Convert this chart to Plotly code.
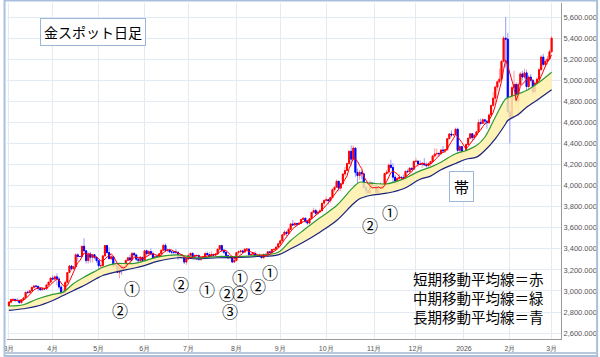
import pandas as pd
import plotly.graph_objects as go

# ---------------- data ----------------
dates = pd.bdate_range("2025-03-03", "2026-03-02")

closes = [
    2893, 2918, 2920, 2910, 2910, 2889, 2917, 2934, 2988, 2984, 3001, 3034, 3047, 3044, 3023, 3011, 3020, 3019, 3057, 3084, 3123,
    3113, 3134, 3114, 3037, 2982, 2983, 3082, 3175, 3237, 3210, 3230, 3343, 3327, 3327, 3424, 3381, 3288, 3349, 3319, 3344, 3317, 3288,
    3239, 3240, 3333, 3431, 3365, 3306, 3325, 3237, 3249, 3177, 3240, 3204, 3230, 3290, 3314, 3294, 3357, 3342, 3301, 3288, 3318, 3289,
    3381, 3353, 3374, 3353, 3310, 3325, 3322, 3354, 3386, 3433, 3385, 3388, 3370, 3369, 3368, 3368, 3323, 3332, 3328, 3274, 3303,
    3338, 3357, 3326, 3337, 3336, 3301, 3313, 3324, 3355, 3344, 3324, 3347, 3339, 3350, 3397, 3431, 3387, 3368, 3336, 3314, 3326, 3274, 3289,
    3363, 3373, 3380, 3369, 3397, 3398, 3342, 3348, 3356, 3336, 3336, 3332, 3315, 3348, 3339, 3372, 3365, 3393, 3396, 3416, 3448,
    3476, 3533, 3559, 3545, 3586, 3636, 3626, 3641, 3634, 3643, 3679, 3690, 3660, 3644, 3685, 3746, 3763, 3736, 3749, 3760, 3833, 3858,
    3866, 3857, 3886, 3961, 3985, 4041, 3976, 4018, 4110, 4143, 4209, 4326, 4251, 4356, 4125, 4095, 4125, 4112, 3982, 3952, 3930, 4025, 4002,
    4000, 3932, 3980, 3977, 4000, 4115, 4128, 4195, 4172, 4080, 4045, 4067, 4078, 4077, 4065, 4136, 4131, 4165, 4156, 4230,
    4232, 4205, 4200, 4208, 4197, 4190, 4208, 4228, 4280, 4300, 4305, 4302, 4338, 4330, 4340, 4445, 4490, 4480, 4485, 4535, 4335, 4370, 4320,
    4322, 4390, 4450, 4492, 4455, 4478, 4510, 4600, 4590, 4625, 4612, 4595, 4670, 4760, 4830, 4935, 4985, 5010, 5180, 5400, 5390, 4700,
    4650, 4930, 4960, 4800, 4960, 5060, 5030, 5070, 4940, 5030, 5000, 4890, 4970, 5010, 5100, 5220, 5150, 5180, 5200, 5270,
    5400,
]

opens = [
    2858, 2893, 2918, 2920, 2910, 2910, 2889, 2917, 2934, 2988, 2984, 3001, 3034, 3047, 3044, 3023, 3011, 3020, 3019, 3057, 3084,
    3123, 3113, 3134, 3114, 3037, 2982, 2983, 3082, 3175, 3237, 3210, 3230, 3343, 3327, 3327, 3424, 3381, 3288, 3349, 3319, 3344, 3317,
    3288, 3239, 3240, 3333, 3431, 3365, 3306, 3325, 3237, 3249, 3177, 3240, 3204, 3230, 3290, 3314, 3294, 3357, 3342, 3301, 3288, 3318,
    3289, 3381, 3353, 3374, 3353, 3310, 3325, 3322, 3354, 3386, 3433, 3385, 3388, 3370, 3369, 3368, 3368, 3323, 3332, 3328, 3274,
    3303, 3338, 3357, 3326, 3337, 3336, 3301, 3313, 3324, 3355, 3344, 3324, 3347, 3339, 3350, 3397, 3431, 3387, 3368, 3336, 3314, 3326, 3274,
    3289, 3363, 3373, 3380, 3369, 3397, 3398, 3342, 3348, 3356, 3336, 3336, 3332, 3315, 3348, 3339, 3372, 3365, 3393, 3396, 3416,
    3448, 3476, 3533, 3559, 3545, 3586, 3636, 3626, 3641, 3634, 3643, 3679, 3690, 3660, 3644, 3685, 3746, 3763, 3736, 3749, 3760, 3833,
    3858, 3866, 3857, 3886, 3961, 3985, 4041, 3976, 4018, 4110, 4143, 4209, 4326, 4251, 4356, 4125, 4095, 4125, 4112, 3982, 3952, 3930, 4025,
    4002, 4000, 3932, 3980, 3977, 4000, 4115, 4128, 4195, 4172, 4080, 4045, 4067, 4078, 4077, 4065, 4136, 4131, 4165, 4156,
    4230, 4232, 4205, 4200, 4208, 4197, 4190, 4208, 4228, 4280, 4300, 4305, 4302, 4338, 4330, 4340, 4445, 4490, 4480, 4485, 4535, 4335, 4370,
    4320, 4322, 4390, 4450, 4492, 4455, 4478, 4510, 4600, 4590, 4625, 4612, 4595, 4670, 4760, 4830, 4935, 4985, 5010, 5180, 5400, 5390,
    4700, 4650, 4930, 4960, 4800, 4960, 5060, 5030, 5070, 4940, 5030, 5000, 4890, 4970, 5010, 5100, 5220, 5150, 5180, 5200,
    5270,
]

highs = [
    2900, 2928, 2930, 2925, 2930, 2915, 2922, 2940, 2990, 3005, 3003, 3038, 3055, 3057, 3047, 3036, 3030, 3032, 3060, 3087, 3128,
    3149, 3148, 3167, 3136, 3055, 3023, 3099, 3175, 3245, 3245, 3232, 3357, 3357, 3330, 3430, 3500, 3386, 3367, 3371, 3351, 3347, 3328,
    3290, 3269, 3336, 3436, 3438, 3414, 3345, 3327, 3265, 3253, 3252, 3253, 3250, 3295, 3325, 3345, 3366, 3365, 3350, 3325, 3330, 3326,
    3392, 3392, 3385, 3403, 3376, 3340, 3350, 3360, 3396, 3446, 3452, 3403, 3398, 3378, 3375, 3398, 3370, 3348, 3350, 3330, 3310,
    3358, 3365, 3366, 3345, 3343, 3347, 3322, 3330, 3368, 3375, 3366, 3377, 3352, 3361, 3402, 3433, 3438, 3393, 3373, 3345, 3334, 3334, 3315,
    3366, 3385, 3390, 3390, 3409, 3409, 3404, 3358, 3368, 3375, 3347, 3358, 3345, 3350, 3351, 3379, 3376, 3394, 3398, 3423, 3454,
    3489, 3540, 3578, 3563, 3600, 3646, 3674, 3658, 3642, 3655, 3685, 3703, 3697, 3663, 3690, 3749, 3791, 3779, 3761, 3782, 3835, 3872,
    3895, 3875, 3895, 3977, 3990, 4059, 4045, 4022, 4116, 4180, 4218, 4330, 4381, 4381, 4360, 4161, 4147, 4140, 4113, 4003, 4030, 4047, 4030,
    4032, 4010, 3995, 4030, 4020, 4120, 4148, 4210, 4245, 4212, 4105, 4085, 4110, 4090, 4105, 4140, 4155, 4175, 4170, 4235,
    4265, 4240, 4240, 4215, 4260, 4220, 4220, 4235, 4290, 4355, 4350, 4320, 4345, 4375, 4350, 4450, 4500, 4525, 4490, 4550, 4550, 4385, 4375,
    4325, 4400, 4455, 4500, 4500, 4485, 4520, 4630, 4635, 4640, 4630, 4620, 4690, 4770, 4890, 4950, 5000, 5110, 5190, 5420, 5600, 5450,
    4810, 4950, 5090, 4980, 4980, 5080, 5090, 5110, 5100, 5050, 5060, 5010, 4990, 5030, 5120, 5240, 5250, 5200, 5230, 5290,
    5420,
]

lows = [
    2856, 2880, 2905, 2895, 2895, 2880, 2882, 2905, 2930, 2975, 2982, 2999, 3025, 3028, 2999, 3005, 3010, 3013, 3015, 3055, 3076,
    3100, 3105, 3054, 3015, 2956, 2970, 2957, 3073, 3170, 3193, 3205, 3228, 3283, 3325, 3325, 3367, 3260, 3260, 3268, 3269, 3301, 3268,
    3202, 3223, 3229, 3325, 3350, 3303, 3295, 3208, 3230, 3171, 3120, 3153, 3200, 3205, 3285, 3277, 3287, 3325, 3285, 3245, 3270, 3271,
    3286, 3333, 3345, 3339, 3306, 3293, 3310, 3315, 3332, 3383, 3382, 3367, 3362, 3340, 3340, 3347, 3295, 3311, 3321, 3255, 3247,
    3297, 3330, 3311, 3322, 3296, 3287, 3283, 3310, 3322, 3340, 3320, 3319, 3309, 3332, 3345, 3383, 3381, 3351, 3325, 3301, 3307, 3268, 3270,
    3281, 3345, 3355, 3358, 3366, 3380, 3341, 3332, 3342, 3331, 3330, 3323, 3312, 3311, 3325, 3321, 3352, 3351, 3374, 3386, 3408,
    3436, 3470, 3525, 3510, 3543, 3578, 3620, 3620, 3613, 3625, 3636, 3675, 3646, 3628, 3633, 3684, 3741, 3717, 3722, 3745, 3758, 3792,
    3848, 3820, 3834, 3884, 3940, 3980, 3945, 3947, 4008, 4085, 4140, 4200, 4190, 4240, 4082, 4004, 4056, 4063, 3972, 3886, 3920, 3925, 3965,
    3962, 3930, 3928, 3970, 3965, 3995, 4100, 4110, 4160, 4033, 4010, 4000, 4055, 4040, 4040, 4045, 4120, 4125, 4146, 4150,
    4220, 4180, 4195, 4170, 4190, 4170, 4175, 4185, 4210, 4265, 4280, 4270, 4295, 4310, 4310, 4338, 4440, 4460, 4475, 4480, 4305, 4320, 4275,
    4315, 4320, 4380, 4440, 4420, 4435, 4460, 4505, 4570, 4585, 4575, 4540, 4590, 4660, 4750, 4780, 4900, 4970, 5000, 5170, 5120, 4680,
    4400, 4640, 4900, 4760, 4660, 4940, 5000, 5010, 4900, 4900, 4980, 4860, 4870, 4950, 5000, 5090, 5130, 5120, 5150, 5190,
    5260,
]

# medium (green) and long (blue) moving averages
ma_dates = [
    "2025-03-03", "2025-03-12", "2025-03-20", "2025-04-01", "2025-04-08", "2025-04-15", "2025-04-22", "2025-04-30",
    "2025-05-05", "2025-05-13", "2025-05-23", "2025-05-30", "2025-06-10", "2025-06-24", "2025-07-07", "2025-07-21",
    "2025-08-01", "2025-08-15", "2025-08-29", "2025-09-08", "2025-09-16", "2025-09-26", "2025-10-08", "2025-10-20",
    "2025-10-23", "2025-10-30", "2025-11-11", "2025-11-21", "2025-12-03", "2025-12-10", "2025-12-17", "2025-12-26",
    "2026-01-02", "2026-01-09", "2026-01-15", "2026-01-22", "2026-01-29", "2026-01-30", "2026-02-06", "2026-02-12",
    "2026-02-20", "2026-03-02",
]
ma_mid = [
    2857, 2869, 2919, 2967, 2989, 3071, 3131, 3194,
    3225, 3260, 3260, 3280, 3321, 3343, 3315, 3327,
    3327, 3337, 3368, 3479, 3574, 3694, 3811, 3985,
    4032, 4023, 4017, 4064, 4140, 4175, 4222, 4302,
    4333, 4380, 4459, 4649, 4824, 4833, 4871, 4902,
    4981, 5076,
]
ma_long = [
    2815, 2831, 2853, 2910, 2957, 3005, 3052, 3118,
    3147, 3178, 3213, 3235, 3280, 3315, 3305, 3315,
    3318, 3327, 3343, 3400, 3463, 3558, 3668, 3827,
    3875, 3906, 3928, 3970, 4060, 4090, 4150, 4210,
    4250, 4270, 4333, 4444, 4587, 4618, 4675, 4744,
    4824, 4909,
]

y_ticks = list(range(2600, 5601, 200))
x_tick_dates = ["2025-03-03", "2025-04-01", "2025-05-01", "2025-06-02", "2025-07-01", "2025-08-01",
                "2025-09-01", "2025-10-01", "2025-11-03", "2025-12-01", "2026-01-01", "2026-02-02", "2026-03-02"]
x_tick_text = ["3月", "4月", "5月", "6月", "7月", "8月", "9月", "10月", "11月", "12月", "2026", "2月", "3月"]

title_text = "金スポット日足"
band_text = "帯"
legend_lines = ["短期移動平均線＝赤", "中期移動平均線＝緑", "長期移動平均線＝青"]
# circled wave labels: (text, pixel x, pixel y)
wave_labels = [
    ("②", 117, 309.5), ("①", 129.5, 288), ("②", 179, 283.5), ("①", 205, 289),
    ("①", 238.7, 277.3), ("②", 225, 293.3), ("②", 239, 293.3), ("③", 228.3, 310.7),
    ("②", 256.7, 285.7), ("①", 269, 272.3), ("②", 370, 224.5), ("①", 390, 211.7),
]

# ---------------- figure ----------------
W, H = 600, 357
ML, MR, MT, MB = 3, 37, 3, 18
PW, PH = W - ML - MR, H - MT - MB

def px(x):
    return (x - ML) / PW

def py(y):
    return (H - MB - y) / PH

FONT = "Noto Sans CJK JP, Noto Sans, sans-serif"
TICKFONT = "Liberation Sans, Arial, sans-serif"

short_ma = pd.Series(closes, index=dates).rolling(5, min_periods=1).mean()
body_hi = [max(o, c) for o, c in zip(opens, closes)]
body_lo = [min(o, c) for o, c in zip(opens, closes)]

fig = go.Figure()

# band between long and medium MA
fig.add_trace(go.Scatter(x=pd.to_datetime(ma_dates), y=ma_long, mode="lines",
                         line=dict(color="#1a237e", width=1.2, shape="spline"), hoverinfo="skip"))
fig.add_trace(go.Scatter(x=pd.to_datetime(ma_dates), y=ma_mid, mode="lines",
                         line=dict(color="#2e9a2e", width=1.2, shape="spline"),
                         fill="tonexty", fillcolor="rgba(255,240,170,0.85)", hoverinfo="skip"))

# wicks (light colours)
fig.add_trace(go.Candlestick(
    x=dates, open=opens, high=highs, low=lows, close=closes,
    increasing=dict(line=dict(color="#ff9a9a", width=1), fillcolor="#ff9a9a"),
    decreasing=dict(line=dict(color="#9a9aff", width=1), fillcolor="#9a9aff"),
    whiskerwidth=0, hoverinfo="skip"))
# bodies
fig.add_trace(go.Candlestick(
    x=dates, open=opens, high=body_hi, low=body_lo, close=closes,
    increasing=dict(line=dict(color="#ff0000", width=1), fillcolor="#ff0000"),
    decreasing=dict(line=dict(color="#0000ff", width=1), fillcolor="#0000ff"),
    whiskerwidth=0, hoverinfo="skip"))

# short MA
fig.add_trace(go.Scatter(x=dates, y=short_ma, mode="lines",
                         line=dict(color="#ff0000", width=1), hoverinfo="skip"))

annotations = []
annotations.append(dict(x=px(90), y=py(31.5), xref="paper", yref="paper", text=title_text,
                        xanchor="center", yanchor="middle",
                        showarrow=False, font=dict(family=FONT, size=14, color="#000"),
                        bgcolor="#ffffff", bordercolor="#9db7d9", borderwidth=1, borderpad=3))
annotations.append(dict(x=px(462), y=py(186), xref="paper", yref="paper", text=band_text,
                        xanchor="center", yanchor="middle",
                        showarrow=False, font=dict(family=FONT, size=15, color="#000"),
                        bgcolor="#ffffff", bordercolor="#9db7d9", borderwidth=1, borderpad=4))
annotations.append(dict(x=px(411), y=py(297.7), xref="paper", yref="paper",
                        text="<br>".join(legend_lines), showarrow=False,
                        xanchor="left", yanchor="middle", align="left",
                        font=dict(family=FONT, size=14.5, color="#000")))
for t, x0, y0 in wave_labels:
    annotations.append(dict(x=px(x0), y=py(y0), xref="paper", yref="paper", text=t,
                            xanchor="center", yanchor="middle", borderpad=0,
                            showarrow=False, font=dict(family=FONT, size=16, color="#000")))

shapes = [
    # outer frame
    dict(type="rect", xref="paper", yref="paper", x0=px(0.5), x1=px(599.5), y0=py(356), y1=py(0.5),
         line=dict(color="#a9bfdc", width=2), fillcolor="rgba(0,0,0,0)", layer="above"),
    # line under the x labels
    dict(type="line", xref="paper", yref="paper", x0=px(0), x1=px(600), y0=py(353), y1=py(353),
         line=dict(color="#b8c8dc", width=2)),
]

fig.update_layout(
    width=W, height=H,
    margin=dict(l=ML, r=MR, t=MT, b=MB),
    paper_bgcolor="#ffffff", plot_bgcolor="#ffffff",
    showlegend=False,
    annotations=annotations,
    shapes=shapes,
    font=dict(family=FONT),
    xaxis=dict(
        type="date",
        rangebreaks=[dict(bounds=["sat", "mon"])],
        range=["2025-02-28 02:00", "2026-03-06 12:00"],
        tickvals=x_tick_dates, ticktext=x_tick_text,
        tickfont=dict(family=TICKFONT, size=7, color="#555555"),
        ticklabeloverflow="allow", ticklabelstandoff=3,
        showgrid=True, gridcolor="#e2eaf4", gridwidth=1,
        showline=True, linecolor="#9a9a9a", linewidth=1, mirror=False,
        ticks="", rangeslider=dict(visible=False), zeroline=False,
    ),
    yaxis=dict(
        side="right", range=[2544, 5733],
        tickvals=y_ticks, tickformat=",.3f",
        tickfont=dict(family=TICKFONT, size=7.5, color="#555555"),
        showgrid=True, gridcolor="#e2eaf4", gridwidth=1,
        showline=True, linecolor="#9a9a9a", linewidth=1,
        ticks="", zeroline=False,
    ),
)

fig.write_html("out.html", config={"displayModeBar": False, "staticPlot": True},
               post_script="document.body.style.margin='0px';document.body.style.overflow='hidden';")
